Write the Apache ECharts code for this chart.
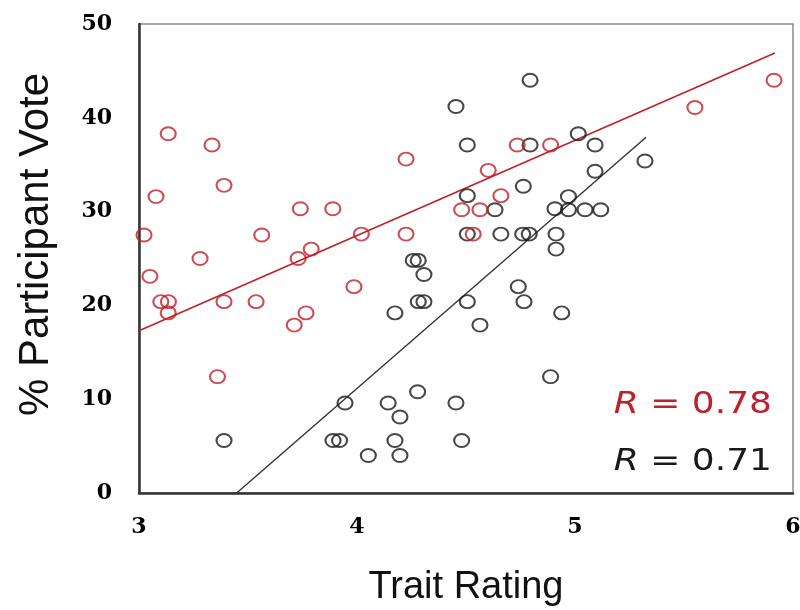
<!DOCTYPE html>
<html>
<head>
<meta charset="utf-8">
<script src="https://cdn.jsdelivr.net/npm/echarts@6/dist/echarts.min.js"></script>
<style>
  html, body { margin: 0; padding: 0; background: #fff; }
  #chart { width: 800px; height: 610px; }
</style>
</head>
<body>
<div id="chart"></div>
<script>
// red group: [trait rating, % vote]
var redPoints = [
  [3.134, 38.3], [3.335, 37.1], [3.39, 32.8], [3.078, 31.6], [3.74, 30.3],
  [3.889, 30.3], [3.023, 27.5], [3.563, 27.5], [3.79, 26.0], [3.28, 25.0],
  [3.73, 25.0], [3.05, 23.1], [3.10, 20.4], [3.135, 20.4], [3.134, 19.2],
  [3.39, 20.4], [3.537, 20.4], [3.766, 19.2], [3.712, 17.9], [3.36, 12.4],
  [3.986, 22.0], [4.225, 35.6], [4.735, 37.1], [4.888, 37.1], [4.602, 34.4],
  [4.66, 31.7], [4.48, 30.2], [4.564, 30.2], [4.533, 27.6], [4.225, 27.6],
  [4.02, 27.6], [5.913, 44.0], [5.55, 41.1]
];
// black group
var blackPoints = [
  [3.39, 5.6], [3.89, 5.6], [3.92, 5.6], [3.945, 9.6], [4.794, 44.0],
  [4.454, 41.2], [4.506, 37.1], [4.794, 37.1], [5.015, 38.3], [4.763, 32.7],
  [4.506, 31.7], [4.633, 30.2], [4.97, 31.6], [4.908, 30.3], [4.97, 30.2],
  [4.506, 27.6], [4.66, 27.6], [4.76, 27.6], [4.79, 27.6], [4.913, 27.6],
  [4.913, 26.0], [4.258, 24.8], [4.281, 24.8], [4.307, 23.3], [4.281, 20.4],
  [4.307, 20.4], [4.174, 19.2], [4.506, 20.4], [4.564, 17.9], [4.74, 22.0],
  [4.766, 20.4], [4.939, 19.2], [4.888, 12.4], [4.278, 10.8], [4.143, 9.6],
  [4.454, 9.6], [4.197, 8.1], [4.174, 5.6], [4.48, 5.6], [4.052, 4.0],
  [4.197, 4.0], [5.092, 37.1], [5.321, 35.4], [5.092, 34.3], [5.046, 30.2],
  [5.118, 30.2]
];

// fit lines: [slope, intercept], x-range
var redFit = [10.15, -13.15];
var redFitRange = [3.0, 5.917];
var blackFit = [20.2, -69.65];
var blackFitRange = [3.448, 5.326];

var xTicks = [3, 4, 5, 6];
var yTicks = [0, 10, 20, 30, 40, 50];
var rLabels = ['0.78', '0.71'];

var RED = '#c0202a';
var BLACK = '#1a1a1a';

function fitLine(fit, range) {
  return range.map(function (x) { return [x, fit[0] * x + fit[1]]; });
}

var chart = echarts.init(document.getElementById('chart'));

var tickFont = {
  fontFamily: 'DejaVu Serif',
  fontWeight: 'bold',
  fontSize: 22,
  color: '#000'
};

function rText(label, color, y) {
  return {
    type: 'text',
    x: 772, y: y,
    scaleX: 1.2,
    style: {
      text: '{i|R} = ' + label,
      fill: color,
      align: 'right',
      verticalAlign: 'middle',
      font: '30px "DejaVu Sans"',
      rich: { i: { fontStyle: 'italic', fontSize: 30, fontFamily: 'DejaVu Sans', fill: color } }
    },
    z: 10
  };
}

chart.setOption({
  animation: false,
  grid: {
    left: 139, right: 7, top: 24, bottom: 117,
    outerBoundsMode: 'none',
    containLabel: false,
    show: true,
    borderColor: '#8a8a8a',
    borderWidth: 1.5,
    backgroundColor: '#fff'
  },
  xAxis: {
    type: 'value',
    min: xTicks[0], max: xTicks[xTicks.length - 1], interval: 1,
    name: 'Trait Rating',
    nameLocation: 'middle',
    nameGap: 76,
    nameTextStyle: { fontFamily: 'Liberation Sans', fontSize: 38, color: '#111' },
    axisLine: { show: true, lineStyle: { color: '#333', width: 2.5 } },
    axisTick: { show: false },
    splitLine: { show: false },
    axisLabel: Object.assign({ margin: 23 }, tickFont)
  },
  yAxis: {
    type: 'value',
    min: yTicks[0], max: yTicks[yTicks.length - 1], interval: 10,
    name: '% Participant Vote',
    nameLocation: 'middle',
    nameGap: 82,
    nameTextStyle: { fontFamily: 'Liberation Sans', fontSize: 42, color: '#111', padding: [0, 0, 0, 28] },
    axisLine: { show: true, lineStyle: { color: '#333', width: 2.5 } },
    axisTick: { show: false },
    splitLine: { show: false },
    axisLabel: Object.assign({ margin: 27 }, tickFont)
  },
  series: [
    {
      type: 'line',
      data: fitLine(redFit, redFitRange),
      showSymbol: false,
      lineStyle: { color: RED, width: 1.6 },
      z: 1
    },
    {
      type: 'line',
      data: fitLine(blackFit, blackFitRange),
      showSymbol: false,
      lineStyle: { color: '#333', width: 1.4 },
      z: 1
    },
    {
      type: 'scatter',
      data: blackPoints,
      symbol: 'circle',
      symbolSize: [15, 13],
      itemStyle: { color: 'rgba(255,255,255,0)', borderColor: BLACK, borderWidth: 2 },
      z: 2
    },
    {
      type: 'scatter',
      data: redPoints,
      symbol: 'circle',
      symbolSize: [15, 13],
      itemStyle: { color: 'rgba(255,255,255,0)', borderColor: RED, borderWidth: 2 },
      z: 3
    }
  ],
  graphic: [
    rText(rLabels[0], RED, 405),
    rText(rLabels[1], BLACK, 462)
  ]
});
</script>
</body>
</html>
